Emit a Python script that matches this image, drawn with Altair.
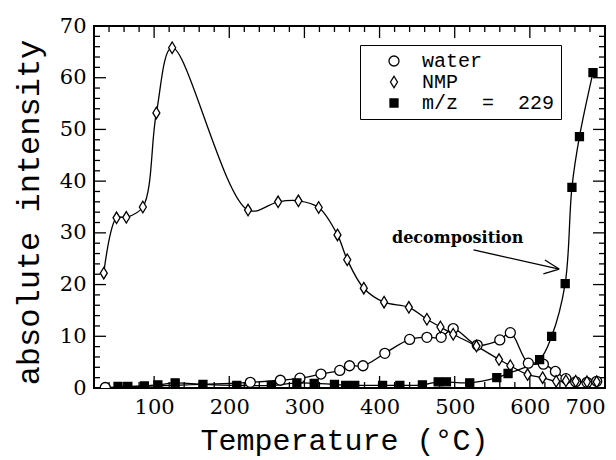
import altair as alt
import pandas as pd
import numpy as np

# ---------------- data ----------------
water_T = [35, 228, 268, 294, 322, 347, 360, 378, 407, 440, 463, 482, 498, 530, 560, 574, 598, 618, 634, 648, 661, 676, 689]
water_I = [0.1, 1.1, 1.5, 1.9, 2.7, 3.4, 4.3, 4.3, 6.7, 9.4, 9.8, 9.8, 11.5, 8.3, 9.3, 10.7, 4.8, 4.6, 3.2, 1.8, 1.2, 1.1, 1.3]

nmp_T = [33, 50, 63, 85, 103, 124, 225, 265, 292, 319, 344, 357, 379, 406, 439, 463, 481, 498, 529, 559, 574, 597, 617, 635, 648, 661, 676, 689]
nmp_I = [22.2, 32.9, 33.0, 35.0, 53.2, 65.8, 34.4, 36.0, 36.2, 34.9, 29.6, 24.8, 19.3, 16.6, 15.6, 13.3, 11.8, 10.4, 8.1, 5.5, 4.3, 2.6, 2.0, 1.3, 1.4, 1.3, 1.2, 1.2]

mz_T = [52, 65, 87, 105, 128, 165, 210, 256, 290, 313, 340, 355, 367, 404, 427, 457, 478, 489, 520, 556, 571, 613, 629, 647, 656, 666, 684]
mz_I = [0.3, 0.3, 0.4, 0.6, 1.0, 0.7, 0.5, 0.5, 1.0, 0.9, 0.7, 0.5, 0.5, 0.5, 0.5, 0.6, 1.2, 1.2, 1.0, 2.0, 2.8, 5.5, 10.0, 20.2, 38.8, 48.6, 61.0]

series_names = ["water", "NMP", "m/z\u00a0\u00a0=\u00a0\u00a0229"]

x_tick_labels = [100, 200, 300, 400, 500, 600, 700]
y_tick_labels = [0, 10, 20, 30, 40, 50, 60, 70]

annot_text = ["decomposition"]
annot_T = [504]
annot_I = [29.1]

# arrow segments: shaft and two head strokes
arrow_T = [525, 620, 618]
arrow_I = [26.7, 24.75, 22.05]
arrow_T2 = [639, 639, 639]
arrow_I2 = [23.0, 23.0, 23.0]

# ---------------- tables ----------------
df = pd.concat([
    pd.DataFrame({"T": water_T, "I": water_I, "series": series_names[0], "o": 0}),
    pd.DataFrame({"T": nmp_T, "I": nmp_I, "series": series_names[1], "o": 1}),
    pd.DataFrame({"T": mz_T, "I": mz_I, "series": series_names[2], "o": 2}),
], ignore_index=True)

x_major = x_tick_labels
x_minor = [v for v in range(40, 701, 20) if v % 100 != 0]
y_major = y_tick_labels
y_minor = [v for v in range(2, 70, 2) if v % 10 != 0]

W, H = 511, 362
SERIF = "DejaVu Serif"
MONO = "Liberation Mono"
DIAMOND = "M0,-1.15L0.7,0L0,1.15L-0.7,0Z"
SQUARE = "M-0.8,-0.8L0.8,-0.8L0.8,0.8L-0.8,0.8Z"

xs = alt.Scale(domain=[20, 700], nice=False, zero=False)
ys = alt.Scale(domain=[0, 70], nice=False, zero=False)

x_axis = alt.Axis(
    title="Temperature (\u00b0C)", values=x_tick_labels, format="d",
    ticks=False, tickSize=0, domain=False, grid=False,
    labelFont=SERIF, labelFontSize=21, labelPadding=8, labelFlush=True, labelColor="black",
    titleFont=MONO, titleFontSize=30, titleFontWeight="normal", titleColor="black",
    titleX=250, titleY=61, titleAlign="center", titleBaseline="alphabetic",
)
y_axis = alt.Axis(
    title="absolute intensity", values=y_tick_labels, format="d",
    ticks=False, tickSize=0, domain=False, grid=False,
    labelFont=SERIF, labelFontSize=21, labelPadding=8, labelColor="black",
    titleFont=MONO, titleFontSize=32, titleFontWeight="normal", titleColor="black",
    titleAngle=270, titleX=-56, titleY=186, titleAlign="center", titleBaseline="alphabetic",
)

leg = alt.Legend(
    title=None, orient="none", legendX=266, legendY=19,
    strokeColor="black", fillColor="white", padding=6, cornerRadius=0,
    labelFont=MONO, labelFontSize=20, labelColor="black", labelOffset=18,
    symbolStrokeWidth=1.3, symbolSize=100, symbolOffset=18,
    rowPadding=1,
)

lines = alt.Chart(df).mark_line(
    interpolate="catmull-rom", color="black", strokeWidth=1.3, clip=True
).encode(
    x=alt.X("T:Q", scale=xs, axis=x_axis),
    y=alt.Y("I:Q", scale=ys, axis=y_axis),
    detail="series:N",
)

pts = alt.Chart(df).mark_point(
    filled=False, strokeWidth=1.3, opacity=1, fillOpacity=1, size=100, clip=True
).encode(
    x=alt.X("T:Q", scale=xs),
    y=alt.Y("I:Q", scale=ys),
    shape=alt.Shape("series:N", scale=alt.Scale(domain=series_names, range=["circle", DIAMOND, SQUARE]), legend=leg),
    fill=alt.Fill("series:N", scale=alt.Scale(domain=series_names, range=["white", "white", "black"]), legend=leg),
    stroke=alt.Stroke("series:N", scale=alt.Scale(domain=series_names, range=["black", "black", "black"]), legend=leg),
    order=alt.Order("o:Q"),
)


def xtick_layer(vals, y1, y2):
    return alt.Chart(pd.DataFrame({"T": vals})).mark_rule(color="black", strokeWidth=1.3).encode(
        x=alt.X("T:Q", scale=xs), y=alt.value(y1), y2=alt.value(y2))


def ytick_layer(vals, x1, x2):
    return alt.Chart(pd.DataFrame({"I": vals})).mark_rule(color="black", strokeWidth=1.3).encode(
        y=alt.Y("I:Q", scale=ys), x=alt.value(x1), x2=alt.value(x2))


MAJ, MIN = 12, 6
ticks = [
    xtick_layer(x_major, H, H - MAJ), xtick_layer(x_minor, H, H - MIN),
    xtick_layer(x_major, 0, MAJ), xtick_layer(x_minor, 0, MIN),
    ytick_layer(y_major, 0, MAJ), ytick_layer(y_minor, 0, MIN),
    ytick_layer(y_major, W, W - MAJ), ytick_layer(y_minor, W, W - MIN),
]

arrow = alt.Chart(pd.DataFrame({"T": arrow_T, "I": arrow_I, "T2": arrow_T2, "I2": arrow_I2})).mark_rule(
    color="black", strokeWidth=1.3
).encode(
    x=alt.X("T:Q", scale=xs), y=alt.Y("I:Q", scale=ys), x2="T2:Q", y2="I2:Q"
)

label = alt.Chart(pd.DataFrame({"T": annot_T, "I": annot_I, "txt": annot_text})).mark_text(
    font=SERIF, fontWeight="bold", fontSize=16, align="center", baseline="middle", color="black"
).encode(
    x=alt.X("T:Q", scale=xs), y=alt.Y("I:Q", scale=ys), text="txt:N"
)

chart = alt.layer(lines, *ticks, arrow, label, pts).properties(
    width=W, height=H,
    autosize=alt.AutoSizeParams(type="none"),
    padding={"left": 94, "top": 26, "right": 11, "bottom": 72},
).configure_view(stroke="black", strokeWidth=2)

chart.save("out.html", embed_options={"renderer": "svg", "actions": False})
